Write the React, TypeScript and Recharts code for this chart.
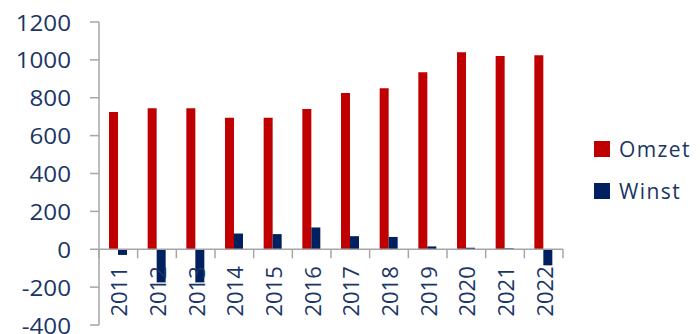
import React from "react";
import { BarChart, Bar, XAxis, YAxis, ReferenceLine, Legend } from "recharts";

const years = ["2011", "2012", "2013", "2014", "2015", "2016", "2017", "2018", "2019", "2020", "2021", "2022"];
const omzet = [725, 745, 745, 695, 695, 740, 825, 850, 935, 1040, 1020, 1025];
const winst = [-30, -175, -175, 83, 80, 115, 69, 65, 15, 8, 5, -85];
const yTicks = [-400, -200, 0, 200, 400, 600, 800, 1000, 1200];

const data = years.map((y, i) => ({ year: y, Omzet: omzet[i], Winst: winst[i] }));

const W = 700;
const H = 334;
const LEGEND_W = 106;
const RIGHT_SPACE = 137;
const M = { top: 22, right: RIGHT_SPACE - LEGEND_W, left: 0, bottom: 8 };
const YAXIS_W = 99;
const XAXIS_H = 1;
const YMIN = -400;
const YMAX = 1200;
const PLOT_H = H - M.top - M.bottom - XAXIS_H;
const PLOT_W = W - M.left - RIGHT_SPACE - YAXIS_W;
const ZERO_Y = M.top + (PLOT_H * YMAX) / (YMAX - YMIN);
const BAND = PLOT_W / years.length;

const TEXT = "#1B3566";
const GRID = "#A6A6A6";
const FONT = "'Open Sans', sans-serif";

const XTick = (props: any) => {
  const { x, index, payload } = props;
  return (
    <g>
      <line x1={x - BAND / 2} x2={x - BAND / 2} y1={ZERO_Y} y2={ZERO_Y + 9} stroke={GRID} strokeWidth={1.5} />
      {index === years.length - 1 && (
        <line x1={x + BAND / 2} x2={x + BAND / 2} y1={ZERO_Y} y2={ZERO_Y + 9} stroke={GRID} strokeWidth={1.5} />
      )}
      <text
        transform={`translate(${x},${ZERO_Y + 17}) rotate(-90)`}
        textAnchor="end"
        dominantBaseline="central"
        fill={TEXT}
        fontSize={22}
        fontWeight={500}
        fontFamily={FONT}
      >
        {payload.value}
      </text>
    </g>
  );
};

const YTick = (props: any) => {
  const { x, y, payload } = props;
  return (
    <text
      transform={`translate(${x},${y}) scale(1.1,1)`}
      textAnchor="end"
      dominantBaseline="central"
      fill={TEXT}
      fontSize={22}
      fontWeight={500}
      fontFamily={FONT}
    >
      {payload.value}
    </text>
  );
};

const LegendContent = (props: any) => {
  const { payload } = props;
  return (
    <div style={{ fontFamily: FONT, fontSize: 21, fontWeight: 500, color: TEXT, letterSpacing: 1.4 }}>
      {(payload || []).map((p: any, i: number) => (
        <div key={i} style={{ display: "flex", alignItems: "center", height: 42 }}>
          <span style={{ display: "inline-block", width: 16, height: 16, background: p.color, marginRight: 9 }} />
          <span>{p.value}</span>
        </div>
      ))}
    </div>
  );
};

export default function App() {
  return (
    <div>
      <style>{`body{margin:0}`}</style>
      <BarChart width={W} height={H} data={data} margin={M} barGap={0} barSize={9}>
        <YAxis
          domain={[YMIN, YMAX]}
          ticks={yTicks}
          interval={0}
          width={YAXIS_W}
          tickSize={9}
          tickMargin={19}
          axisLine={{ stroke: GRID, strokeWidth: 1.5 }}
          tickLine={{ stroke: GRID, strokeWidth: 1.5 }}
          tick={<YTick />}
        />
        <XAxis dataKey="year" height={XAXIS_H} axisLine={false} tickLine={false} interval={0} tick={<XTick />} />
        <ReferenceLine y={0} stroke={GRID} strokeWidth={1.5} />
        <Bar dataKey="Omzet" fill="#C00000" isAnimationActive={false} />
        <Bar dataKey="Winst" fill="#002060" isAnimationActive={false} />
        <Legend
          layout="vertical"
          verticalAlign="middle"
          align="right"
          content={<LegendContent />}
          wrapperStyle={{ left: 594, top: 128, right: "auto", width: LEGEND_W }}
        />
      </BarChart>
    </div>
  );
}
